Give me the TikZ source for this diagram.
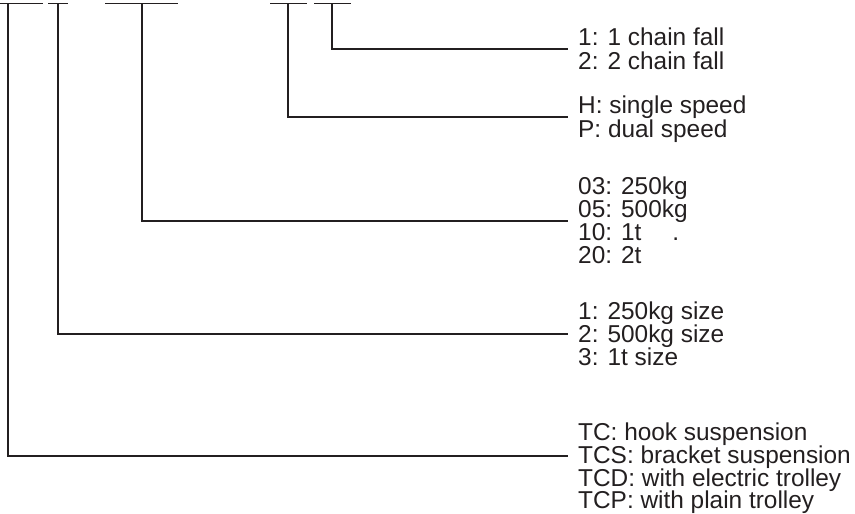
\documentclass[tikz,border=0pt]{standalone}
\usepackage{fontspec}
\setmainfont{Liberation Sans}
\definecolor{ink}{HTML}{231F20}
\begin{document}
\begin{tikzpicture}[x=1pt,y=-1pt,
  bar/.style={draw=ink, line width=1.3pt},
  lead/.style={draw=ink, line width=1.3pt},
  lbl/.style={anchor=base west, inner sep=0pt, text=ink, font=\fontsize{24.4}{24}\selectfont}]
\useasboundingbox (0,0) rectangle (855,514);
% top bars
\coordinate (b1l) at (0,3.5);   \coordinate (b1r) at (43,3.5);  \coordinate (v1) at (8,3.5);
\coordinate (b2l) at (48,3.5);  \coordinate (b2r) at (68,3.5);  \coordinate (v2) at (58,3.5);
\coordinate (b3l) at (105,3.5); \coordinate (b3r) at (178,3.5); \coordinate (v3) at (142,3.5);
\coordinate (b4l) at (270,3.5); \coordinate (b4r) at (307,3.5); \coordinate (v4) at (288,3.5);
\coordinate (b5l) at (314,3.5); \coordinate (b5r) at (351,3.5); \coordinate (v5) at (332,3.5);
\foreach \i in {1,...,5} {\draw[bar] (b\i l) -- (b\i r);}
% line ends
\coordinate (j5) at (568,49);
\coordinate (j4) at (568,117);
\coordinate (j3) at (568,221);
\coordinate (j2) at (568,334);
\coordinate (j1) at (568,456);
% texts
\node[lbl] (a1) at (578,45.6) {1: 1 chain fall};
\node[lbl] (a2) at (578,69.6) {2: 2 chain fall};
\node[lbl] (p1) at (578,113.6) {H: single speed};
\node[lbl] (p2) at (578,137.6) {P: dual speed};
\node[lbl] (c1) at (578,194.6) {03: 250kg};
\node[lbl] (c2) at (578,217.6) {05: 500kg};
\node[lbl] (c3) at (578,240.6) {10: 1t\hspace{31pt}.};
\node[lbl] (c4) at (578,263.6) {20: 2t};
\node[lbl] (d1) at (578,319.6) {1: 250kg size};
\node[lbl] (d2) at (578,342.6) {2: 500kg size};
\node[lbl] (d3) at (578,365.6) {3: 1t size};
\node[lbl] (e1) at (578,440.6) {TC: hook suspension};
\node[lbl] (e2) at (578,463.6) {TCS: bracket suspension};
\node[lbl] (e3) at (578,486.6) {TCD: with electric trolley};
\node[lbl] (e4) at (578,508.6) {TCP: with plain trolley};
% leads
\draw[lead] (v5) |- (j5);
\draw[lead] (v4) |- (j4);
\draw[lead] (v3) |- (j3);
\draw[lead] (v2) |- (j2);
\draw[lead] (v1) |- (j1);
\end{tikzpicture}
\end{document}
